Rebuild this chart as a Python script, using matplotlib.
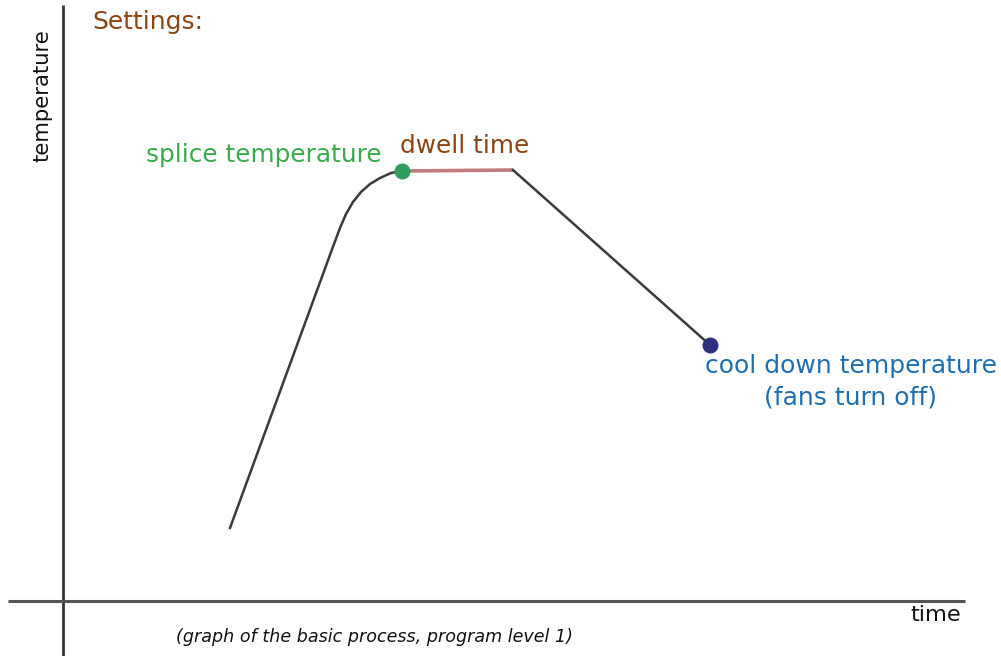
import matplotlib.pyplot as plt

# Process curve (pixel-like units, y grows downward)
ramp_x = [230, 334, 340, 346, 353, 361, 370, 380, 391, 402]
ramp_y = [528, 244, 228, 214, 202, 192, 184, 178, 173, 171]
dwell_x = [402, 513]
dwell_y = [171, 170]
cool_x = [513, 710]
cool_y = [170, 345]

splice_point = (402, 171)
cooldown_point = (710, 345)

fig = plt.figure(figsize=(10.01, 6.56), dpi=100)
ax = fig.add_axes([0, 0, 1, 1])
ax.set_xlim(0, 1001)
ax.set_ylim(656, 0)
ax.axis('off')

# axes lines
ax.plot([63, 63], [5, 656], color='#333333', lw=2, solid_capstyle='butt')
ax.plot([8, 965], [601, 601], color='#555555', lw=2.2, solid_capstyle='butt')

# curve
ax.plot(ramp_x, ramp_y, color='#3a3a3a', lw=1.8)
ax.plot(dwell_x, dwell_y, color='#c47a7a', lw=2.6, solid_capstyle='butt')
ax.plot(cool_x, cool_y, color='#3a3a3a', lw=1.8)

ax.scatter(*splice_point, s=110, color='#2e9e5e', zorder=5)
ax.scatter(*cooldown_point, s=110, color='#2b2f7e', zorder=5)

# labels
ax.text(92, 22, 'Settings:', color='#8a4512', fontsize=18, ha='left', va='center')
ax.text(146, 155, 'splice temperature', color='#3aab4c', fontsize=17.8, ha='left', va='center')
ax.text(400, 146, 'dwell time', color='#8a4512', fontsize=17.8, ha='left', va='center')
ax.text(997, 366, 'cool down temperature', color='#1f6fae', fontsize=18, ha='right', va='center')
ax.text(851, 398, '(fans turn off)', color='#1f6fae', fontsize=18, ha='center', va='center')
ax.text(42, 96, 'temperature', color='#111111', fontsize=15.2, rotation=90, ha='center', va='center')
ax.text(936, 615, 'time', color='#111111', fontsize=16.2, ha='center', va='center')
ax.text(375, 637, '(graph of the basic process, program level 1)', color='#111111',
        fontsize=12.6, style='italic', ha='center', va='center')

plt.savefig('out.png', dpi=100)
